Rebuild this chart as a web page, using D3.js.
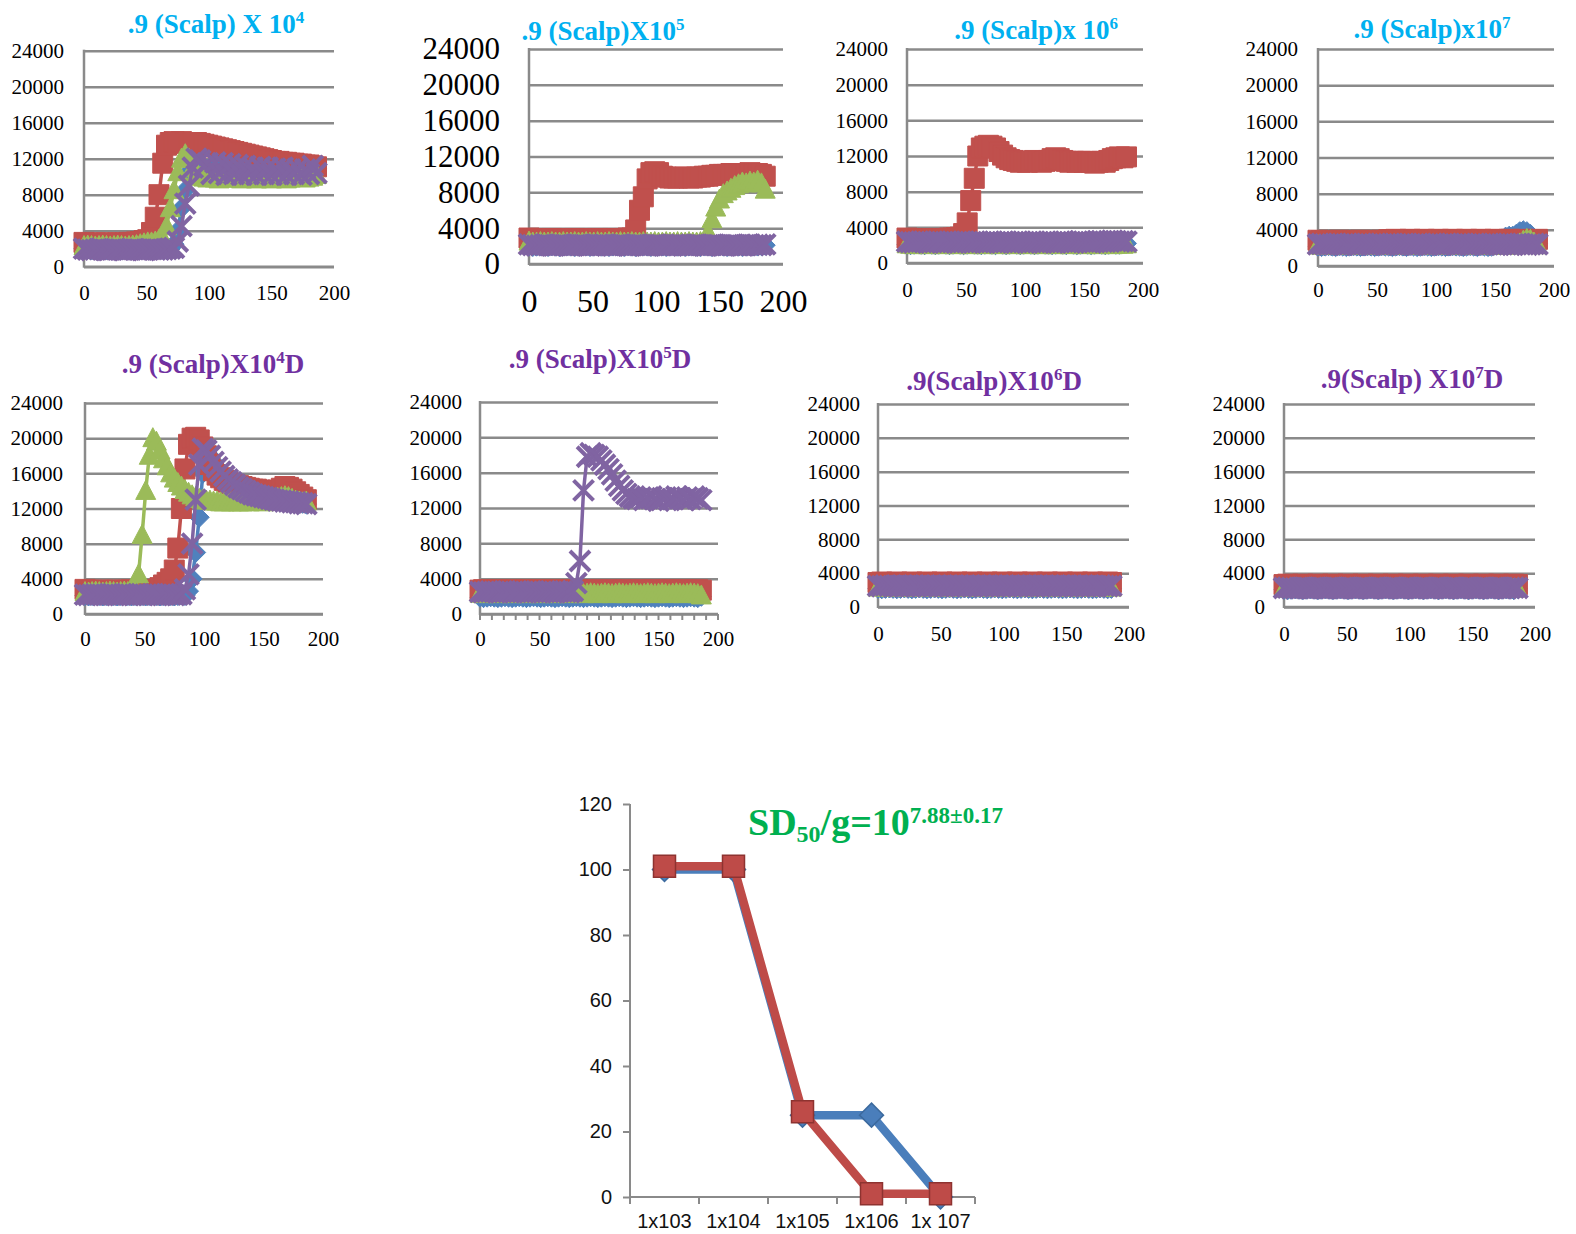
<!DOCTYPE html>
<html>
<head>
<meta charset="utf-8">
<script src="https://cdn.jsdelivr.net/npm/d3@7"></script>
<style>
body { margin: 0; background: #fff; }
svg { display: block; }
</style>
</head>
<body>
<div id="chart"></div>
<script>
// ---- data ----
const times = [0,3,6,9,12,15,18,21,24,27,
30,33,36,39,42,45,48,51,54,57,
60,63,66,69,72,75,78,81,84,87,
90,93,96,99,102,105,108,111,114,117,
120,123,126,129,132,135,138,141,144,147,
150,153,156,159,162,165,168,171,174,177,
180,183,186];

const yTicks = [0,4000,8000,12000,16000,20000,24000];
const xTicks = [0,50,100,150,200];

// .9 (Scalp) X 10^4
const x4Blue = [2000,1950,1900,1950,2000,1950,1900,1950,2000,1950,
1900,1950,2000,1950,1900,1950,2000,1950,1900,1950,
2000,1950,1900,2000,2500,4000,6500,8500,10500,11500,
11800,11400,11000,10800,11000,10900,10700,10800,10600,10700,
10500,10700,10600,10500,10700,10600,10400,10600,10500,10700,
10500,10400,10600,10500,10400,10600,10500,10700,10600,10500,
10600,10800,10900];
const x4Red = [2700,2600,2600,2650,2600,2600,2650,2600,2600,2650,
2600,2650,2700,2700,2750,2800,2900,3000,3800,5500,
8000,11500,13500,13800,13900,13800,13900,13700,13800,13700,
13800,13700,13600,13500,13400,13300,13200,13100,13000,12900,
12800,12700,12600,12500,12400,12300,12200,12100,12000,11900,
11800,11700,11700,11600,11600,11500,11500,11400,11400,11300,
11300,11200,11100];
const x4Green = [2300,2350,2300,2250,2300,2350,2300,2250,2300,2350,
2300,2250,2300,2350,2400,2500,2600,2700,2700,2800,
3000,3200,4500,6500,8500,10500,12000,12500,12000,11000,
10500,10000,9900,9800,9900,9800,9700,9800,9900,9800,
9900,9800,9700,9800,9900,9800,9700,9800,9900,9800,
9700,9800,9900,9800,9700,9800,9900,10000,9900,9800,
9900,10000,10200];
const x4Purple = [2000,1900,1850,1900,1950,1900,1850,1900,1950,1900,
1900,1850,1900,1950,1900,1900,1850,1900,1950,1900,
1900,1900,1950,2000,2100,2800,4500,7000,9000,11000,
12000,11800,11200,11500,10300,11600,10400,11500,10200,11400,
10300,11300,10200,11200,10300,11000,10200,11100,10300,11000,
10200,10900,10300,11000,10200,10800,10300,10900,10200,10800,
10300,11200,10400];

// .9 (Scalp) X 10^5
const x5Blue = [2000,1950,2000,2050,2000,1950,2050,2000,1950,2000,
2050,2000,1950,2000,2050,2000,1950,2000,2050,2000,
2000,1950,2000,2050,2000,1950,2050,2000,1950,2000,
2050,2000,1950,2000,2050,2000,1950,2000,2050,2000,
2000,1950,2000,2050,2000,1950,2050,2000,1950,2000,
2050,2000,1950,2000,2050,2000,1950,2000,2050,2000,
2000,2050,2100];
const x5Red = [2900,2800,2800,2750,2800,2800,2850,2800,2800,2750,
2800,2800,2850,2800,2800,2750,2800,2800,2850,2800,
2800,2800,2850,2800,2800,2850,2900,2900,3800,6000,
7500,9500,10200,10300,10200,9800,9700,9600,9600,9600,
9700,9700,9600,9600,9700,9700,9800,9800,9900,9900,
10000,10000,10000,10100,10100,10000,10100,10100,10200,10100,
10100,10000,9800];
const x5Green = [2500,2400,2400,2450,2400,2400,2450,2400,2400,2450,
2400,2400,2450,2400,2400,2450,2400,2400,2450,2400,
2400,2450,2400,2400,2450,2400,2400,2450,2400,2400,
2450,2400,2400,2450,2400,2400,2450,2400,2400,2450,
2400,2400,2450,2400,2400,2450,2500,3500,5000,6300,
7200,7800,8100,8400,8700,8900,9100,9000,9200,9100,
9300,9000,8300];
const x5Purple = [2200,2100,2050,2100,2150,2100,2050,2100,2150,2100,
2100,2050,2100,2150,2100,2100,2050,2100,2150,2100,
2150,2100,2050,2100,2150,2100,2050,2100,2150,2100,
2100,2050,2100,2150,2100,2100,2050,2100,2150,2100,
2150,2100,2050,2100,2150,2100,2050,2100,2150,2100,
2100,2050,2100,2150,2100,2100,2050,2100,2150,2100,
2150,2100,2200];

// .9 (Scalp) x 10^6
const x6Blue = [2100,2050,2100,2150,2100,2050,2150,2100,2050,2100,
2150,2100,2050,2100,2150,2100,2050,2100,2150,2100,
2100,2050,2100,2150,2100,2050,2150,2100,2050,2100,
2150,2100,2050,2100,2150,2100,2050,2100,2150,2100,
2100,2050,2100,2150,2100,2050,2150,2100,2050,2100,
2150,2100,2050,2100,2150,2100,2050,2100,2150,2100,
2100,2150,2200];
const x6Red = [2800,2700,2700,2650,2700,2700,2750,2700,2700,2750,
2700,2750,2800,2800,2850,2900,3300,4500,7000,9500,
12000,12900,13100,13200,13100,12900,12500,12100,11800,11600,
11500,11400,11300,11400,11300,11400,11500,11400,11300,11400,
11500,11700,11800,11700,11500,11400,11300,11400,11300,11400,
11300,11400,11300,11200,11300,11400,11300,11500,11700,11800,
11900,11800,11900];
const x6Green = [2100,2050,2000,2050,2100,2050,2000,2050,2100,2050,
2000,2050,2100,2050,2000,2050,2100,2050,2000,2050,
2100,2050,2000,2050,2100,2050,2000,2050,2100,2050,
2000,2050,2100,2050,2000,2050,2100,2050,2000,2050,
2100,2050,2000,2050,2100,2050,2000,2050,2100,2050,
2000,2050,2100,2050,2000,2050,2100,2050,2000,2050,
2100,2050,2100];
const x6Purple = [2400,2350,2300,2350,2400,2350,2300,2350,2400,2350,
2300,2350,2400,2350,2300,2350,2400,2350,2300,2350,
2400,2350,2300,2350,2400,2350,2300,2350,2400,2350,
2300,2350,2400,2350,2300,2350,2400,2350,2300,2350,
2400,2350,2300,2350,2400,2350,2300,2350,2400,2450,
2400,2350,2300,2350,2400,2450,2400,2450,2500,2450,
2400,2450,2400];

// .9 (Scalp) x10^7
const x7Blue = [2200,2150,2200,2250,2200,2150,2250,2200,2150,2200,
2250,2200,2150,2200,2250,2200,2150,2200,2250,2200,
2200,2150,2200,2250,2200,2150,2250,2200,2150,2200,
2250,2200,2150,2200,2250,2200,2150,2200,2250,2200,
2200,2150,2200,2250,2200,2150,2250,2200,2150,2200,
2300,2600,3000,3200,3300,3300,3500,3800,3900,3800,
3500,3000,2500];
const x7Red = [2850,2800,2800,2750,2800,2800,2850,2800,2800,2750,
2800,2800,2850,2800,2800,2750,2800,2800,2850,2800,
2900,2900,2950,2900,2900,2900,2950,2900,2900,2900,
2950,2900,2900,2900,2950,2900,2900,2900,2950,2900,
2900,2900,2950,2900,2900,2900,2950,2900,2900,2900,
2950,2900,2900,2900,2950,2900,2900,2900,2950,2900,
2900,2900,2950];
const x7Green = [2300,2250,2300,2350,2300,2250,2300,2350,2300,2250,
2300,2350,2300,2250,2300,2350,2300,2250,2300,2350,
2300,2250,2300,2350,2300,2250,2300,2350,2300,2250,
2300,2350,2300,2250,2300,2350,2300,2250,2300,2350,
2300,2250,2300,2350,2300,2250,2300,2350,2300,2250,
2300,2350,2300,2250,2300,2350,2300,2500,2800,3000,
2900,2600,2300];
const x7Purple = [2400,2450,2400,2350,2400,2450,2400,2350,2400,2450,
2400,2350,2400,2450,2400,2350,2400,2450,2400,2350,
2400,2450,2400,2350,2400,2450,2400,2350,2400,2450,
2400,2350,2400,2450,2400,2350,2400,2450,2400,2350,
2400,2450,2400,2350,2400,2450,2400,2350,2400,2450,
2400,2350,2400,2450,2400,2350,2400,2450,2400,2350,
2400,2450,2400];

// .9 (Scalp)X10^4D
const d4Blue = [2100,2050,2100,2150,2100,2050,2100,2150,2100,2050,
2100,2150,2100,2050,2100,2150,2100,2050,2100,2150,
2100,2050,2100,2150,2100,2050,2100,2150,2100,2600,
4000,7000,11000,16000,18200,18000,17300,16700,16200,15700,
15300,15000,14700,14400,14200,14000,13800,13600,13500,13400,
13300,13200,13100,13000,12900,12900,12800,12800,12700,12700,
12600,12600,12500];
const d4Red = [2800,2700,2700,2650,2700,2700,2650,2700,2700,2700,
2650,2700,2700,2750,2700,2700,2700,2750,2700,2700,
2800,3000,3300,3600,4000,5000,7500,12000,16500,19300,
20000,20100,19800,19000,18000,17000,16300,15800,15500,15200,
15000,14800,14700,14600,14500,14400,14300,14200,14200,14100,
14000,14000,14000,13900,14100,14300,14500,14400,14200,13900,
13600,13300,13000];
const d4Green = [2500,2450,2500,2550,2500,2450,2500,2550,2500,2450,
2500,2550,2500,2600,2800,4500,9000,14000,18000,20000,
19600,18600,17600,16800,16000,15400,14900,14500,14100,13800,
13500,13300,13100,13000,12900,12900,12800,12800,12700,12700,
12800,12700,12800,12700,12700,12800,12700,12800,12900,12800,
12700,12800,12900,13000,13200,13300,13400,13300,13100,12900,
12800,12700,12800];
const d4Purple = [2200,2150,2200,2250,2200,2150,2200,2250,2200,2150,
2200,2250,2200,2150,2200,2250,2200,2150,2200,2250,
2200,2150,2200,2250,2200,2150,2200,2250,2800,4500,
8000,13000,17000,18800,18600,18000,17300,16700,16200,15700,
15300,15000,14700,14400,14200,14000,13800,13600,13500,13400,
13300,13200,13100,13000,12900,12900,12800,12800,12700,12700,
12600,12600,12500];

// .9 (Scalp)X10^5D
const d5Blue = [1900,1850,1900,1950,1900,1850,1900,1950,1900,1850,
1900,1950,1900,1850,1900,1950,1900,1850,1900,1950,
1900,1850,1900,1950,1900,1850,1900,1950,1900,1850,
1900,1950,1900,1850,1900,1950,1900,1850,1900,1950,
1900,1850,1900,1950,1900,1850,1900,1950,1900,1850,
1900,1950,1900,1850,1900,1950,1900,1850,1900,1950,
1900,1850,2000];
const d5Red = [2700,2750,2700,2650,2700,2750,2700,2650,2700,2750,
2700,2650,2700,2750,2700,2650,2700,2750,2700,2650,
2700,2750,2700,2650,2700,2750,2700,2650,2700,2750,
2700,2650,2700,2750,2700,2650,2700,2750,2700,2650,
2700,2750,2700,2650,2700,2750,2700,2650,2700,2750,
2700,2650,2700,2750,2700,2650,2700,2750,2700,2650,
2700,2750,2700];
const d5Green = [2300,2250,2300,2350,2300,2250,2300,2350,2300,2250,
2300,2350,2300,2250,2300,2350,2300,2250,2300,2350,
2300,2250,2300,2350,2300,2250,2300,2350,2300,2250,
2300,2350,2300,2250,2300,2350,2300,2250,2300,2350,
2300,2250,2300,2350,2300,2250,2300,2350,2300,2250,
2300,2350,2300,2250,2300,2350,2300,2250,2300,2350,
2300,2250,2100];
const d5Purple = [2500,2450,2500,2550,2500,2450,2500,2550,2500,2450,
2500,2550,2500,2450,2500,2550,2500,2450,2500,2550,
2500,2450,2500,2550,2500,2450,2600,3500,6000,14000,
17800,18200,18000,17800,17400,16900,16400,15800,15100,14500,
14000,13600,13300,13100,13000,13200,12900,13100,13300,13000,
12800,13100,13200,12900,13000,13300,13100,12900,13200,13000,
13300,13100,12900];

// .9(Scalp)X10^6D
const d6Blue = [2200,2150,2200,2250,2200,2150,2200,2250,2200,2150,
2200,2250,2200,2150,2200,2250,2200,2150,2200,2250,
2200,2150,2200,2250,2200,2150,2200,2250,2200,2150,
2200,2250,2200,2150,2200,2250,2200,2150,2200,2250,
2200,2150,2200,2250,2200,2150,2200,2250,2200,2150,
2200,2250,2200,2150,2200,2250,2200,2150,2200,2250,
2200,2150,2200];
const d6Red = [2900,2950,2900,2850,2900,2950,2900,2850,2900,2950,
2900,2850,2900,2950,2900,2850,2900,2950,2900,2850,
2900,2950,2900,2850,2900,2950,2900,2850,2900,2950,
2900,2850,2900,2950,2900,2850,2900,2950,2900,2850,
2900,2950,2900,2850,2900,2950,2900,2850,2900,2950,
2900,2850,2900,2950,2900,2850,2900,2950,2900,2850,
2900,2950,2900];
const d6Green = [2300,2350,2300,2250,2300,2350,2300,2250,2300,2350,
2300,2250,2300,2350,2300,2250,2300,2350,2300,2250,
2300,2350,2300,2250,2300,2350,2300,2250,2300,2350,
2300,2250,2300,2350,2300,2250,2300,2350,2300,2250,
2300,2350,2300,2250,2300,2350,2300,2250,2300,2350,
2300,2250,2300,2350,2300,2250,2300,2350,2300,2250,
2300,2350,2300];
const d6Purple = [2500,2450,2550,2500,2450,2550,2500,2450,2550,2500,
2450,2550,2500,2450,2550,2500,2450,2550,2500,2450,
2550,2500,2450,2550,2500,2450,2550,2500,2450,2550,
2500,2450,2550,2500,2450,2550,2500,2450,2550,2500,
2450,2550,2500,2450,2550,2500,2450,2550,2500,2450,
2550,2500,2450,2550,2500,2450,2550,2500,2450,2550,
2500,2450,2500];

// .9(Scalp) X10^7D
const d7Blue = [2100,2050,2100,2150,2100,2050,2100,2150,2100,2050,
2100,2150,2100,2050,2100,2150,2100,2050,2100,2150,
2100,2050,2100,2150,2100,2050,2100,2150,2100,2050,
2100,2150,2100,2050,2100,2150,2100,2050,2100,2150,
2100,2050,2100,2150,2100,2050,2100,2150,2100,2050,
2100,2150,2100,2050,2100,2150,2100,2050,2100,2150,
2100,2050,2200];
const d7Red = [2650,2700,2650,2600,2650,2700,2650,2600,2650,2700,
2650,2600,2650,2700,2650,2600,2650,2700,2650,2600,
2650,2700,2650,2600,2650,2700,2650,2600,2650,2700,
2650,2600,2650,2700,2650,2600,2650,2700,2650,2600,
2650,2700,2650,2600,2650,2700,2650,2600,2650,2700,
2650,2600,2650,2700,2650,2600,2650,2700,2650,2600,
2650,2700,2650];
const d7Green = [2200,2150,2200,2250,2200,2150,2200,2250,2200,2150,
2200,2250,2200,2150,2200,2250,2200,2150,2200,2250,
2200,2150,2200,2250,2200,2150,2200,2250,2200,2150,
2200,2250,2200,2150,2200,2250,2200,2150,2200,2250,
2200,2150,2200,2250,2200,2150,2200,2250,2200,2150,
2200,2250,2200,2150,2200,2250,2200,2150,2200,2250,
2200,2150,2200];
const d7Purple = [2250,2300,2250,2200,2250,2300,2250,2200,2250,2300,
2250,2200,2250,2300,2250,2200,2250,2300,2250,2200,
2250,2300,2250,2200,2250,2300,2250,2200,2250,2300,
2250,2200,2250,2300,2250,2200,2250,2300,2250,2200,
2250,2300,2250,2200,2250,2300,2250,2200,2250,2300,
2250,2200,2250,2300,2250,2200,2250,2300,2250,2200,
2250,2300,2250];

// dose-response summary
const doses = ["1x103", "1x104", "1x105", "1x106", "1x 107"];
const doseBlue = [100, 100, 25, 25, 0];
const doseRed = [101, 101, 26, 1, 1];
const doseTicks = [0, 20, 40, 60, 80, 100, 120];

// ---- styles ----
const serif = "'Liberation Serif','Times New Roman',serif";
const sans = "'Liberation Sans',Arial,sans-serif";
const gridColor = "#8a8a8a";
const cyan = "#00B0F0", violet = "#7030A0";
const seriesStyle = [
    {color: "#4F81BD", shape: "diamond"},
    {color: "#C0504D", shape: "square"},
    {color: "#9BBB59", shape: "triangle"},
    {color: "#8064A2", shape: "x"}
];

const panels = [
    {title: [".9 (Scalp) X 10", "4", ""], color: cyan, series: [x4Blue, x4Red, x4Green, x4Purple],
     l: 84, r: 334, t: 50.7, b: 266.7, yLab: 64, yFont: 21, xFont: 21, xLabY: 300, tx: 216, ty: 33},
    {title: [".9 (Scalp)X10", "5", ""], color: cyan, series: [x5Blue, x5Red, x5Green, x5Purple],
     l: 529, r: 783, t: 49, b: 264, yLab: 500, yFont: 31, xFont: 32, xLabY: 312, tx: 603, ty: 40},
    {title: [".9 (Scalp)x 10", "6", ""], color: cyan, series: [x6Blue, x6Red, x6Green, x6Purple],
     l: 907, r: 1143, t: 49, b: 263, yLab: 888, yFont: 21, xFont: 21, xLabY: 297, tx: 1036, ty: 39},
    {title: [".9 (Scalp)x10", "7", ""], color: cyan, series: [x7Blue, x7Red, x7Green, x7Purple],
     l: 1318, r: 1554, t: 49, b: 266, yLab: 1298, yFont: 21, xFont: 21, xLabY: 297, tx: 1432, ty: 38},
    {title: [".9 (Scalp)X10", "4", "D"], color: violet, series: [d4Blue, d4Red, d4Green, d4Purple],
     l: 85, r: 323, t: 403, b: 614, yLab: 63, yFont: 21, xFont: 21, xLabY: 646, tx: 213, ty: 373},
    {title: [".9 (Scalp)X10", "5", "D"], color: violet, series: [d5Blue, d5Red, d5Green, d5Purple],
     l: 480, r: 718, t: 402, b: 614, yLab: 462, yFont: 21, xFont: 21, xLabY: 646, tx: 600, ty: 368, minor: true},
    {title: [".9(Scalp)X10", "6", "D"], color: violet, series: [d6Blue, d6Red, d6Green, d6Purple],
     l: 878, r: 1129, t: 404, b: 607, yLab: 860, yFont: 21, xFont: 21, xLabY: 641, tx: 994, ty: 390},
    {title: [".9(Scalp) X10", "7", "D"], color: violet, series: [d7Blue, d7Red, d7Green, d7Purple],
     l: 1284, r: 1535, t: 404, b: 607, yLab: 1265, yFont: 21, xFont: 21, xLabY: 641, tx: 1412, ty: 388}
];

function markerPath(shape, s) {
    switch (shape) {
        case "diamond": return `M0,${-s}L${s},0L0,${s}L${-s},0Z`;
        case "square": return `M${-s},${-s}H${s}V${s}H${-s}Z`;
        case "triangle": return `M0,${-s * 1.05}L${s},${s * 0.85}L${-s},${s * 0.85}Z`;
        default: return `M${-s},${-s}L${s},${s}M${-s},${s}L${s},${-s}`;
    }
}

class panelVis {
    constructor(parent, cfg) {
        this.parent = parent;
        this.cfg = cfg;
        this.initVis();
    }

    initVis() {
        let vis = this, c = vis.cfg;
        vis.g = vis.parent.append("g");

        vis.x = d3.scaleLinear().domain([0, 200]).range([c.l, c.r]);
        vis.y = d3.scaleLinear().domain([0, 24000]).range([c.b, c.t]);

        // gridlines + y labels
        vis.g.append("g")
            .attr("transform", `translate(${c.l},0)`)
            .call(d3.axisLeft(vis.y).tickValues(yTicks).tickSize(-(c.r - c.l))
                .tickPadding(c.l - c.yLab).tickFormat(d3.format("d")))
            .call(g => g.select(".domain").remove())
            .call(g => g.selectAll("line").attr("stroke", gridColor).attr("stroke-width", 2.5))
            .attr("font-family", serif).attr("font-size", c.yFont)
            .call(g => g.selectAll("text").attr("fill", "#000"));

        // x labels
        vis.g.append("g")
            .attr("transform", `translate(0,${c.b})`)
            .call(d3.axisBottom(vis.x).tickValues(xTicks).tickSize(0)
                .tickPadding(c.xLabY - c.b - 0.71 * c.xFont))
            .call(g => g.select(".domain").remove())
            .attr("font-family", serif).attr("font-size", c.xFont)
            .call(g => g.selectAll("text").attr("fill", "#000"));

        if (c.minor) {
            vis.g.append("g").selectAll("line")
                .data(d3.range(0, 201, 10))
                .join("line")
                .attr("x1", d => vis.x(d)).attr("x2", d => vis.x(d))
                .attr("y1", c.b).attr("y2", c.b + 6)
                .attr("stroke", gridColor).attr("stroke-width", 2);
        }

        // axis lines
        vis.g.append("line").attr("x1", c.l).attr("x2", c.l).attr("y1", c.t - 1).attr("y2", c.b + 1)
            .attr("stroke", gridColor).attr("stroke-width", 2.5);
        vis.g.append("line").attr("x1", c.l).attr("x2", c.r).attr("y1", c.b).attr("y2", c.b)
            .attr("stroke", gridColor).attr("stroke-width", 2.5);

        // title
        let title = vis.g.append("text")
            .attr("x", c.tx).attr("y", c.ty)
            .attr("text-anchor", "middle")
            .attr("font-family", serif).attr("font-weight", "bold").attr("font-size", 27)
            .attr("fill", c.color);
        title.append("tspan").text(c.title[0]);
        title.append("tspan").attr("font-size", 17).attr("dy", -10).text(c.title[1]);
        title.append("tspan").attr("font-size", 27).attr("dy", 10).text(c.title[2]);

        this.updateVis();
    }

    updateVis() {
        let vis = this, c = vis.cfg;
        let line = d3.line().x(d => vis.x(d[0])).y(d => vis.y(d[1]));

        c.series.forEach((vals, k) => {
            let st = seriesStyle[k];
            let pts = vals.map((v, i) => [times[i], v]).filter(d => d[0] !== undefined);
            let sg = vis.g.append("g");

            sg.append("path").datum(pts)
                .attr("d", line)
                .attr("fill", "none").attr("stroke", st.color).attr("stroke-width", 3.5);

            sg.selectAll("path.mk")
                .data(pts)
                .join("path")
                .attr("class", "mk")
                .attr("transform", d => `translate(${vis.x(d[0])},${vis.y(d[1])})`)
                .attr("d", markerPath(st.shape, 10))
                .attr("fill", st.shape === "x" ? "none" : st.color)
                .attr("stroke", st.color)
                .attr("stroke-width", st.shape === "x" ? 4 : 1);
        });
    }
}

class doseVis {
    constructor(parent) {
        this.parent = parent;
        this.initVis();
    }

    initVis() {
        let vis = this;
        vis.box = {l: 630, r: 975, t: 804, b: 1197};
        vis.g = vis.parent.append("g");

        vis.x = d3.scaleBand().domain(doses).range([vis.box.l, vis.box.r]);
        vis.y = d3.scaleLinear().domain([0, 120]).range([vis.box.b, vis.box.t]);

        vis.g.append("g")
            .attr("transform", `translate(${vis.box.l},0)`)
            .call(d3.axisLeft(vis.y).tickValues(doseTicks).tickSize(7).tickPadding(11))
            .call(g => g.select(".domain").remove())
            .call(g => g.selectAll("line").attr("stroke", gridColor).attr("stroke-width", 2))
            .attr("font-family", sans).attr("font-size", 20)
            .call(g => g.selectAll("text").attr("fill", "#111"));

        // category ticks on band edges
        let edges = doses.map(d => vis.x(d)).concat([vis.box.r]);
        vis.g.append("g").selectAll("line")
            .data(edges)
            .join("line")
            .attr("x1", d => d).attr("x2", d => d)
            .attr("y1", vis.box.b).attr("y2", vis.box.b + 7)
            .attr("stroke", gridColor).attr("stroke-width", 2);

        vis.g.append("g").selectAll("text")
            .data(doses)
            .join("text")
            .attr("x", d => vis.x(d) + vis.x.bandwidth() / 2)
            .attr("y", 1228)
            .attr("text-anchor", "middle")
            .attr("font-family", sans).attr("font-size", 20)
            .attr("fill", "#111")
            .text(d => d);

        vis.g.append("line").attr("x1", vis.box.l).attr("x2", vis.box.l)
            .attr("y1", vis.box.t).attr("y2", vis.box.b)
            .attr("stroke", gridColor).attr("stroke-width", 2);
        vis.g.append("line").attr("x1", vis.box.l).attr("x2", vis.box.r)
            .attr("y1", vis.box.b).attr("y2", vis.box.b)
            .attr("stroke", gridColor).attr("stroke-width", 2);

        // SD50 label
        let lab = vis.g.append("text")
            .attr("x", 748).attr("y", 835)
            .attr("font-family", serif).attr("font-weight", "bold").attr("font-size", 38)
            .attr("fill", "#00B050");
        lab.append("tspan").text("SD");
        lab.append("tspan").attr("font-size", 24).attr("dy", 7).text("50");
        lab.append("tspan").attr("font-size", 38).attr("dy", -7).text("/g=10");
        lab.append("tspan").attr("font-size", 23).attr("dy", -12).text("7.88±0.17");

        this.updateVis();
    }

    updateVis() {
        let vis = this;
        let cx = d => vis.x(d) + vis.x.bandwidth() / 2;
        let line = d3.line().x(d => cx(d[0])).y(d => vis.y(d[1]));

        let sets = [
            {vals: doseBlue, color: "#4A7EBB", edge: "#3C6A9E", shape: "diamond", s: 12},
            {vals: doseRed, color: "#BE4B48", edge: "#8E3330", shape: "square", s: 11}
        ];
        sets.forEach(st => {
            let pts = doses.map((d, i) => [d, st.vals[i]]);
            vis.g.append("path").datum(pts)
                .attr("d", line)
                .attr("fill", "none").attr("stroke", st.color).attr("stroke-width", 8.5)
                .attr("stroke-linejoin", "round");
            vis.g.append("g").selectAll("path")
                .data(pts)
                .join("path")
                .attr("transform", d => `translate(${cx(d[0])},${vis.y(d[1])})`)
                .attr("d", markerPath(st.shape, st.s))
                .attr("fill", st.color)
                .attr("stroke", st.edge).attr("stroke-width", 1.5);
        });
    }
}

const svg = d3.select("#chart").append("svg")
    .attr("width", 1576).attr("height", 1234);

panels.forEach(p => new panelVis(svg, p));
new doseVis(svg);
</script>
</body>
</html>
